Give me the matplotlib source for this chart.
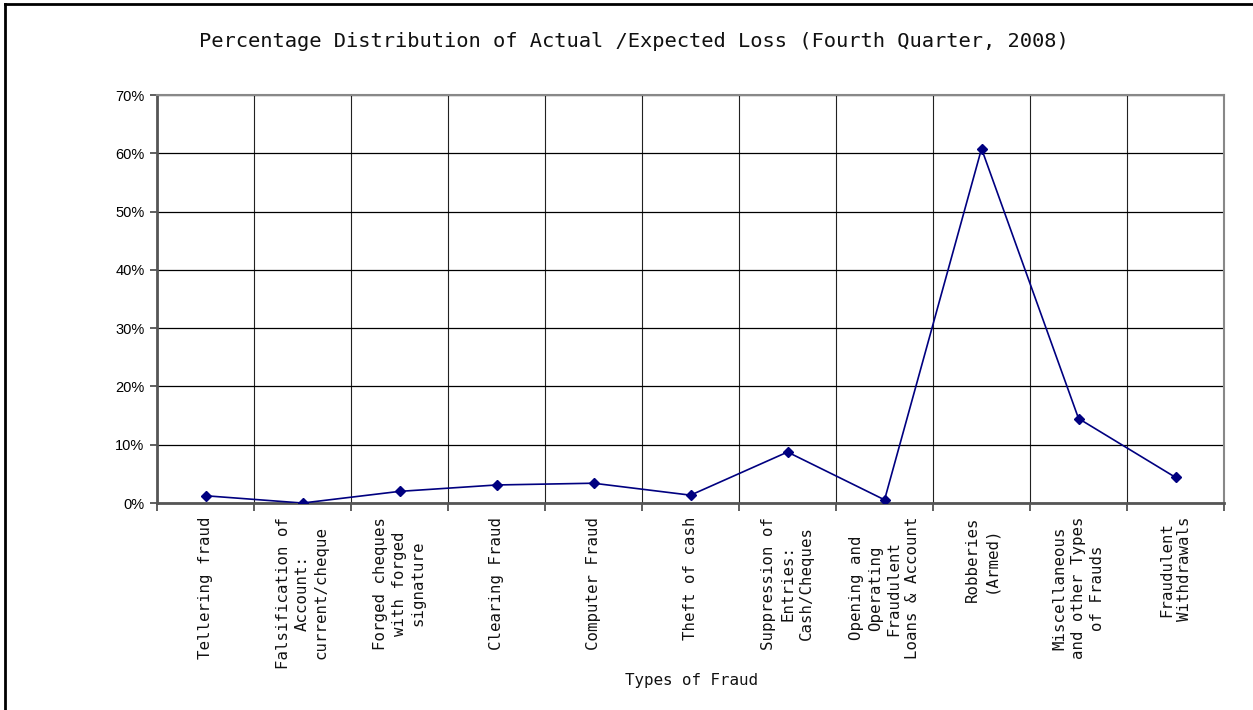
import matplotlib
matplotlib.use("Agg")
from matplotlib import pyplot as plt
from matplotlib.lines import Line2D
from matplotlib.ticker import FuncFormatter, FixedLocator

# Fraud categories (x axis) and share of actual/expected loss
fraud_types = [
    "Tellering fraud",
    "Falsification of\nAccount:\ncurrent/cheque",
    "Forged cheques\nwith forged\nsignature",
    "Clearing Fraud",
    "Computer Fraud",
    "Theft of cash",
    "Suppression of\nEntries:\nCash/Cheques",
    "Opening and\nOperating\nFraudulent\nLoans & Account",
    "Robberies\n(Armed)",
    "Miscellaneous\nand other Types\nof Frauds",
    "Fraudulent\nWithdrawals",
]
loss_share = [0.0125, 0.0, 0.020, 0.031, 0.034, 0.0135, 0.0875, 0.0055, 0.608, 0.145, 0.044]
y_ticks = [0.0, 0.1, 0.2, 0.3, 0.4, 0.5, 0.6, 0.7]

fig = plt.figure(figsize=(12.53, 7.10), dpi=100)
ax = fig.add_axes([0.1253, 0.2915, 0.8516, 0.5746])

x = list(range(len(fraud_types)))
ax.plot(x, loss_share, color="#000080", linewidth=1.2, marker="D",
        markersize=5, markerfacecolor="#000080", markeredgecolor="#000080", zorder=3)

ax.set_xlim(-0.5, len(fraud_types) - 0.5)
ax.set_ylim(0, 0.7)
ax.set_yticks(y_ticks)
ax.yaxis.set_major_formatter(FuncFormatter(lambda v, pos: f"{v * 100:.0f}%"))

# category labels in the middle, tick marks / grid on the boundaries
ax.set_xticks(x)
ax.set_xticklabels(fraud_types, rotation=90, ha="center", va="top",
                   multialignment="center", family="DejaVu Sans Mono", fontsize=11.3,
                   linespacing=1.3, color="#111111")
ax.tick_params(axis="x", which="major", length=0, pad=10)
ax.xaxis.set_minor_locator(FixedLocator([i - 0.5 for i in range(len(fraud_types) + 1)]))
ax.tick_params(axis="x", which="minor", length=6, width=1.2, color="#444444", direction="out")
ax.tick_params(axis="y", length=5, width=1.2, color="#444444", direction="out", pad=4)
for lab in ax.get_yticklabels():
    lab.set_family("Liberation Sans")
    lab.set_fontsize(10.5)

ax.grid(True, axis="y", which="major", color="#000000", linewidth=0.9)
ax.grid(True, axis="x", which="minor", color="#222222", linewidth=0.8)
ax.grid(False, axis="x", which="major")
ax.set_axisbelow(True)

for side in ["left", "bottom"]:
    ax.spines[side].set_color("#555555")
    ax.spines[side].set_linewidth(2)
for side in ["top", "right"]:
    ax.spines[side].set_color("#888888")
    ax.spines[side].set_linewidth(1.5)

fig.text(0.506, 0.941, "Percentage Distribution of Actual /Expected Loss (Fourth Quarter, 2008)",
         ha="center", va="center", family="DejaVu Sans Mono", fontsize=14.7, color="#111111")
fig.text(0.5515, 0.042, "Types of Fraud", ha="center", va="center",
         family="DejaVu Sans Mono", fontsize=11.4, color="#111111")

# chart frame (only left and top edges fall inside the picture)
fig.add_artist(Line2D([5 / 1253, 5 / 1253], [0, 1 - 3.5 / 710], transform=fig.transFigure,
                      color="black", linewidth=2))
fig.add_artist(Line2D([5 / 1253, 1], [1 - 3.5 / 710, 1 - 3.5 / 710], transform=fig.transFigure,
                      color="black", linewidth=2))

fig.savefig("out.png", dpi=100, facecolor="white")
